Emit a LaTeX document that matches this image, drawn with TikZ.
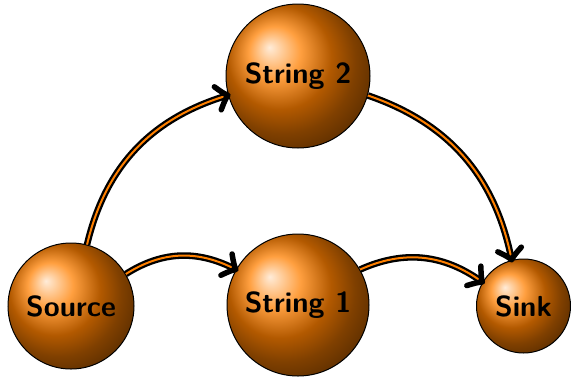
\documentclass[tikz,border=0pt]{standalone}
\usetikzlibrary{decorations.markings}
\begin{document}
\begin{tikzpicture}[x=1pt,y=-1pt,
  ball/.style={circle, draw=black, line width=1pt, ball color=orange, inner sep=0pt,
    font=\fontsize{29}{34}\selectfont\sffamily\bfseries},
  link/.style={draw=black, line width=2.3pt, double=orange, double distance=2pt, bend left=30,
    postaction={decorate},
    decoration={markings, mark=at position 0.999 with {
      \draw[black, line width=5.5pt, line cap=round, line join=round]
        (-10.5pt,12pt) .. controls (-5pt,4.5pt) and (-1.5pt,1pt) .. (0pt,0pt)
        .. controls (-1.5pt,-1pt) and (-5pt,-4.5pt) .. (-10.5pt,-12pt);}}}]
\useasboundingbox (0,0) rectangle (571,376);
\node[ball, minimum size=126pt] (src) at (71,306) {Source};
\node[ball, minimum size=142pt] (s1) at (298,305) {String 1};
\node[ball, minimum size=144pt] (s2) at (298,76) {String 2};
\node[ball, minimum size=94pt] (sink) at (523.5,306) {Sink};
\draw[link] (src) to (s1);
\draw[link] (src) to (s2);
\draw[link] (s1) to (sink);
\draw[link] (s2) to (sink);
\end{tikzpicture}
\end{document}
